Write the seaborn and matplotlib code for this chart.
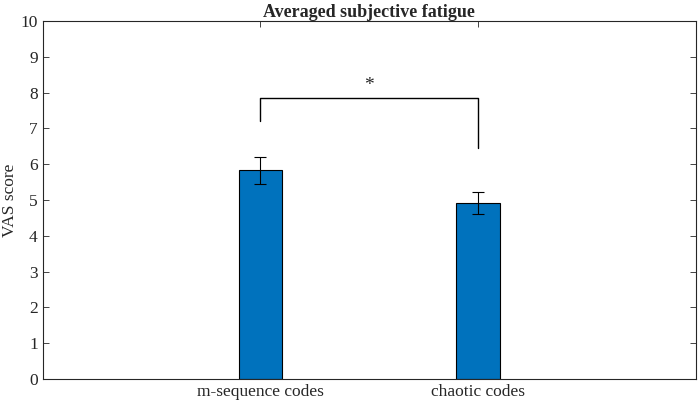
import matplotlib
matplotlib.use('Agg')
import matplotlib.pyplot as plt
import seaborn as sns
import pandas as pd

# values
categories = ['m-sequence codes', 'chaotic codes']
vas_mean = [5.83, 4.92]
vas_err = [0.38, 0.31]
bracket_left = 7.2
bracket_right = 6.45
bracket_top = 7.85
star_y = 7.95

sns.set_style('ticks')
plt.rcParams['font.family'] = ['Liberation Serif', 'DejaVu Serif']

df = pd.DataFrame({'cond': categories, 'score': vas_mean})

fig = plt.figure(figsize=(7, 4.04), dpi=100)
ax = fig.add_axes([0.061, 0.062, 0.933, 0.886])

sns.barplot(data=df, x='cond', y='score', color='#0072BD', saturation=1,
            width=0.2, edgecolor='black', linewidth=0.8, errorbar=None, ax=ax)
ax.errorbar(range(len(categories)), vas_mean, yerr=vas_err, fmt='none',
            ecolor='black', elinewidth=0.8, capsize=4, capthick=0.8)

# significance bracket
ax.plot([0, 0, 1, 1], [bracket_left, bracket_top, bracket_top, bracket_right],
        color='black', linewidth=1.0)
ax.text(0.5, star_y, '*', ha='center', va='bottom', fontsize=14)

ax.set_xlim(-1, 2)
ax.set_ylim(0, 10)
ax.set_yticks(range(0, 11))
ax.set_xlabel('')
ax.set_ylabel('VAS score', fontsize=12.5)
ax.yaxis.set_label_coords(-0.038, 0.5)
ax.set_title('Averaged subjective fatigue', fontsize=13, fontweight='bold', pad=3)
ax.tick_params(direction='in', top=True, right=True, labelsize=12.5, length=4, width=0.6)
for s in ax.spines.values():
    s.set_visible(True)
    s.set_linewidth(0.8)

fig.savefig('out.png', dpi=100)
plt.close(fig)
